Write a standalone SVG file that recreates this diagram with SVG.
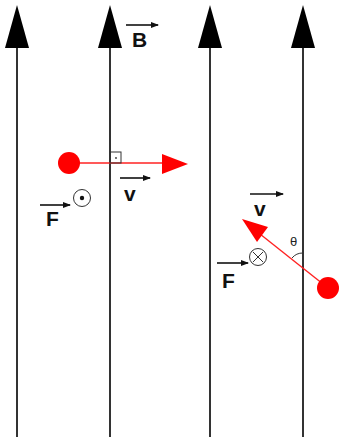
<svg xmlns="http://www.w3.org/2000/svg" width="339" height="439" viewBox="0 0 339 439">
<style>
.field{stroke:#333;stroke-width:2;fill:none}
.head{fill:#000}
.red{stroke:#f22;stroke-width:1.4;fill:none}
.redf{fill:#f00}
.lbl{font-family:"Liberation Sans",Arial,sans-serif;font-weight:bold;font-size:21px;fill:#111}
.vec{stroke:#111;stroke-width:1.6;fill:none}
.thin{stroke:#333;stroke-width:1;fill:none}
</style>
<defs>
<marker id="va" markerWidth="8" markerHeight="6" refX="7" refY="3" orient="auto" markerUnits="userSpaceOnUse"><path d="M0,0 L8,3 L0,6 Z" fill="#111"/></marker>
</defs>
<rect width="339" height="439" fill="#fff"/>
<g id="field-lines">
<g id="line1"><line class="field" x1="17" y1="46" x2="17" y2="437"/><polygon class="head" points="17,5 29,48 5,48"/></g>
<g id="line2"><line class="field" x1="110" y1="46" x2="110" y2="437"/><polygon class="head" points="110,5 122,48 98,48"/></g>
<g id="line3"><line class="field" x1="210" y1="46" x2="210" y2="437"/><polygon class="head" points="210,5 222,48 198,48"/></g>
<g id="line4"><line class="field" x1="303" y1="46" x2="303" y2="437"/><polygon class="head" points="303,5 315,48 291,48"/></g>
</g>
<g id="label-B"><line class="vec" x1="126" y1="25" x2="158" y2="25" marker-end="url(#va)"/><text class="lbl" x="132" y="47">B</text></g>
<g id="particle1">
<line class="red" x1="69" y1="163" x2="164" y2="163"/>
<circle class="redf" cx="69" cy="163" r="11"/>
<polygon class="redf" points="162,154 188,164 162,174"/>
<rect class="thin" x="110" y="152" width="11" height="11"/>
<circle cx="116" cy="158" r="0.9" fill="#333"/>
</g>
<g id="label-v1"><line class="vec" x1="120" y1="178" x2="150" y2="178" marker-end="url(#va)"/><text class="lbl" x="124" y="201">v</text></g>
<g id="force-out"><circle cx="82" cy="198" r="8.5" class="thin"/><circle cx="82" cy="198" r="2.2" fill="#111"/></g>
<g id="label-F1"><line class="vec" x1="40" y1="205" x2="70" y2="205" marker-end="url(#va)"/><text class="lbl" x="46" y="226">F</text></g>
<g id="particle2">
<line class="red" x1="328" y1="288" x2="260" y2="234"/>
<circle class="redf" cx="328" cy="288" r="11"/>
<polygon class="redf" points="242,219 268,227 257,242"/>
<path class="thin" d="M303,253 A14,14 0 0 0 292,258"/>
<text x="290" y="246" font-family="'Liberation Sans',Arial,sans-serif" font-size="13" fill="#222">θ</text>
</g>
<g id="label-v2"><line class="vec" x1="250" y1="194" x2="283" y2="194" marker-end="url(#va)"/><text class="lbl" x="254" y="216">v</text></g>
<g id="force-in"><circle cx="258" cy="257" r="8.5" class="thin"/><path class="thin" d="M253,252 L263,262 M263,252 L253,262"/></g>
<g id="label-F2"><line class="vec" x1="217" y1="263" x2="248" y2="263" marker-end="url(#va)"/><text class="lbl" x="222" y="288">F</text></g>
</svg>
